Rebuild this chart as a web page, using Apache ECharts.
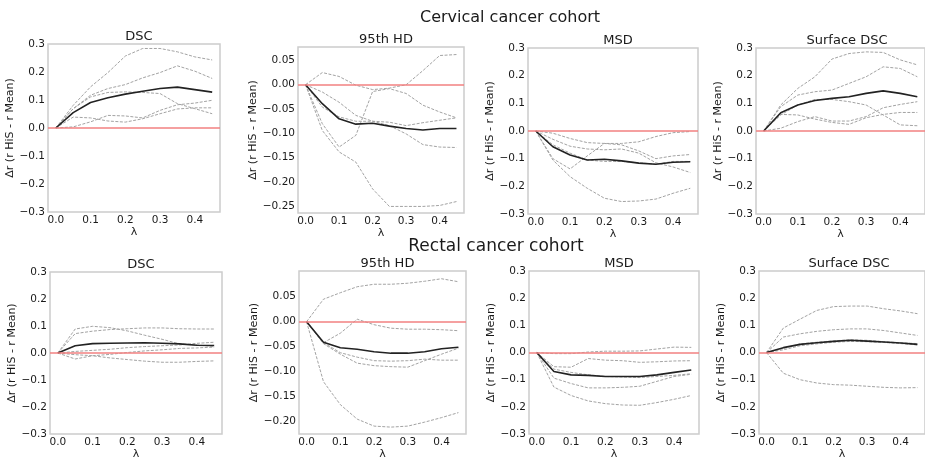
<!DOCTYPE html>
<html>
<head>
<meta charset="utf-8">
<script src="https://cdn.jsdelivr.net/npm/echarts@6/dist/echarts.min.js"></script>
<style>
  html, body { margin: 0; padding: 0; background: #fff; }
  #chart { width: 925px; height: 461px; }
</style>
</head>
<body>
<div id="chart"></div>
<script>
// lambda values (x axis)
const lambdas = [0, 0.05, 0.1, 0.15, 0.2, 0.25, 0.3, 0.35, 0.4, 0.45]
const xTicks = [0, 0.1, 0.2, 0.3, 0.4]
const yTicksWide = [-0.3, -0.2, -0.1, 0, 0.1, 0.2, 0.3]
const yTicksHdCerv = [-0.25, -0.2, -0.15, -0.1, -0.05, 0, 0.05]
const yTicksHdRect = [-0.2, -0.15, -0.1, -0.05, 0, 0.05]

const rowTitles = ['Cervical cancer cohort', 'Rectal cancer cohort']
const panelTitles = ['DSC', '95th HD', 'MSD', 'Surface DSC', 'DSC', '95th HD', 'MSD', 'Surface DSC']

// Cervical cohort
const cervDscMean = [0, 0.055, 0.091, 0.108, 0.121, 0.131, 0.141, 0.146, 0.137, 0.128]
const cervDscRuns = [
  [0, 0.081, 0.147, 0.198, 0.257, 0.284, 0.284, 0.272, 0.254, 0.243],
  [0, 0.069, 0.117, 0.141, 0.155, 0.179, 0.198, 0.222, 0.203, 0.177],
  [0, 0.069, 0.111, 0.127, 0.129, 0.127, 0.123, 0.087, 0.069, 0.051],
  [0, 0.039, 0.036, 0.025, 0.021, 0.033, 0.051, 0.068, 0.072, 0.072],
  [0, 0.004, 0.022, 0.045, 0.043, 0.036, 0.063, 0.083, 0.089, 0.099]
]
const cervHdMean = [0, -0.039, -0.070, -0.081, -0.079, -0.085, -0.090, -0.093, -0.090, -0.090]
const cervHdRuns = [
  [0, 0.025, 0.017, -0.001, -0.010, -0.007, 0, 0.029, 0.060, 0.062],
  [0, -0.080, -0.128, -0.104, -0.014, -0.008, -0.018, -0.042, -0.056, -0.068],
  [0, -0.094, -0.138, -0.159, -0.214, -0.250, -0.250, -0.250, -0.248, -0.240],
  [0, -0.015, -0.036, -0.063, -0.075, -0.084, -0.101, -0.123, -0.128, -0.129],
  [0, -0.046, -0.066, -0.075, -0.075, -0.077, -0.084, -0.078, -0.073, -0.068]
]
const cervMsdMean = [0, -0.057, -0.087, -0.105, -0.102, -0.108, -0.116, -0.120, -0.113, -0.111]
const cervMsdRuns = [
  [0, -0.008, -0.027, -0.042, -0.045, -0.045, -0.039, -0.020, -0.006, -0.002],
  [0, -0.100, -0.137, -0.090, -0.045, -0.050, -0.072, -0.100, -0.090, -0.085],
  [0, -0.105, -0.165, -0.207, -0.243, -0.255, -0.253, -0.246, -0.225, -0.207],
  [0, -0.030, -0.055, -0.065, -0.068, -0.065, -0.080, -0.115, -0.130, -0.150],
  [0, -0.050, -0.080, -0.105, -0.110, -0.110, -0.115, -0.120, -0.110, -0.110]
]
const cervSdscMean = [0, 0.066, 0.094, 0.110, 0.118, 0.124, 0.136, 0.145, 0.136, 0.124]
const cervSdscRuns = [
  [0, 0.094, 0.154, 0.196, 0.260, 0.280, 0.286, 0.284, 0.257, 0.239],
  [0, 0.088, 0.130, 0.142, 0.148, 0.172, 0.196, 0.232, 0.226, 0.196],
  [0, 0.058, 0.094, 0.114, 0.114, 0.106, 0.094, 0.058, 0.022, 0.019],
  [0, 0.060, 0.058, 0.043, 0.031, 0.024, 0.048, 0.060, 0.067, 0.067],
  [0, 0.010, 0.034, 0.052, 0.036, 0.036, 0.052, 0.084, 0.096, 0.106]
]

// Rectal cohort
const rectDscMean = [0, 0.027, 0.035, 0.036, 0.037, 0.038, 0.036, 0.034, 0.029, 0.028]
const rectDscRuns = [
  [0, 0.089, 0.099, 0.094, 0.082, 0.066, 0.051, 0.034, 0.030, 0.024],
  [0, 0.072, 0.081, 0.087, 0.090, 0.093, 0.093, 0.090, 0.089, 0.089],
  [0, 0.006, 0.010, 0.014, 0.020, 0.024, 0.027, 0.030, 0.036, 0.040],
  [0, -0.022, -0.010, -0.005, 0.002, 0.008, 0.012, 0.017, 0.019, 0.022],
  [0, -0.006, -0.010, -0.018, -0.024, -0.030, -0.034, -0.034, -0.031, -0.029]
]
const rectHdMean = [0, -0.041, -0.052, -0.055, -0.060, -0.063, -0.063, -0.060, -0.054, -0.051]
const rectHdRuns = [
  [0, 0.045, 0.058, 0.070, 0.075, 0.075, 0.077, 0.081, 0.086, 0.080],
  [0, -0.042, -0.023, 0.005, -0.006, -0.013, -0.015, -0.015, -0.016, -0.018],
  [0, -0.042, -0.062, -0.071, -0.078, -0.079, -0.078, -0.075, -0.077, -0.077],
  [0, -0.044, -0.065, -0.083, -0.088, -0.090, -0.091, -0.078, -0.065, -0.053],
  [0, -0.120, -0.166, -0.195, -0.209, -0.211, -0.209, -0.201, -0.192, -0.182]
]
const rectMsdMean = [0, -0.070, -0.082, -0.084, -0.088, -0.088, -0.088, -0.082, -0.073, -0.064]
const rectMsdRuns = [
  [0, -0.004, -0.004, 0.002, 0.005, 0.005, 0.006, 0.013, 0.020, 0.019],
  [0, -0.052, -0.054, -0.022, -0.028, -0.030, -0.036, -0.034, -0.031, -0.030],
  [0, -0.061, -0.073, -0.082, -0.088, -0.090, -0.092, -0.088, -0.084, -0.078],
  [0, -0.094, -0.114, -0.130, -0.130, -0.128, -0.124, -0.106, -0.088, -0.080],
  [0, -0.127, -0.158, -0.178, -0.188, -0.193, -0.194, -0.184, -0.172, -0.158]
]
const rectSdscMean = [0, 0.018, 0.030, 0.036, 0.041, 0.045, 0.042, 0.039, 0.035, 0.030]
const rectSdscRuns = [
  [0, 0.090, 0.123, 0.155, 0.169, 0.171, 0.171, 0.161, 0.153, 0.143],
  [0, 0.057, 0.069, 0.078, 0.084, 0.087, 0.087, 0.081, 0.072, 0.063],
  [0, 0.015, 0.032, 0.038, 0.043, 0.047, 0.045, 0.040, 0.036, 0.033],
  [0, 0.010, 0.025, 0.032, 0.038, 0.041, 0.040, 0.037, 0.033, 0.028],
  [0, -0.076, -0.100, -0.112, -0.118, -0.120, -0.124, -0.128, -0.130, -0.129]
]

const FONT = 'DejaVu Sans'
const TXT = '#1a1a1a'

const panels = [
  { mean: cervDscMean, runs: cervDscRuns, rect: [48, 44, 172, 168], y: [-0.3, 0.3], ticks: yTicksWide, dec: 1, gap: 25 },
  { mean: cervHdMean, runs: cervHdRuns, rect: [298, 47, 166, 166], y: [-0.2635, 0.0775], ticks: yTicksHdCerv, dec: 2, gap: 36 },
  { mean: cervMsdMean, runs: cervMsdRuns, rect: [528, 48, 170, 166], y: [-0.3, 0.3], ticks: yTicksWide, dec: 1, gap: 26 },
  { mean: cervSdscMean, runs: cervSdscRuns, rect: [756, 48, 172, 166], y: [-0.3, 0.3], ticks: yTicksWide, dec: 1, gap: 26 },
  { mean: rectDscMean, runs: rectDscRuns, rect: [50, 272, 172, 166], y: [-0.3, 0.3], ticks: yTicksWide, dec: 1, gap: 26 },
  { mean: rectHdMean, runs: rectHdRuns, rect: [299, 271, 167, 167], y: [-0.225, 0.1015], ticks: yTicksHdRect, dec: 2, gap: 32 },
  { mean: rectMsdMean, runs: rectMsdRuns, rect: [529, 271, 170, 167], y: [-0.3, 0.3], ticks: yTicksWide, dec: 1, gap: 25 },
  { mean: rectSdscMean, runs: rectSdscRuns, rect: [759, 271, 170, 167], y: [-0.3, 0.3], ticks: yTicksWide, dec: 1, gap: 25 }
]

function fmt(v, d) {
  const s = Math.abs(v).toFixed(d)
  return (v < -1e-9 ? '\u2212' : '') + s
}

const toPoints = arr => lambdas.map((x, i) => [x, arr[i]])

const grids = []
const xAxes = []
const yAxes = []
const series = []
const titles = [
  { text: rowTitles[0], left: 505, top: 5, textAlign: 'center', textStyle: { fontFamily: FONT, fontSize: 16, fontWeight: 'normal', color: TXT } },
  { text: rowTitles[1], left: 491, top: 233, textAlign: 'center', textStyle: { fontFamily: FONT, fontSize: 17, fontWeight: 'normal', color: TXT } }
]

panels.forEach((p, k) => {
  const [l, t, w, h] = p.rect
  grids.push({ left: l, top: t, width: w, height: h, show: true, borderColor: '#cccccc', borderWidth: 1.5, backgroundColor: 'transparent' })
  titles.push({
    text: panelTitles[k], left: l + w / 2, top: t - 19, textAlign: 'center',
    textStyle: { fontFamily: FONT, fontSize: 13, fontWeight: 'normal', color: TXT }
  })
  xAxes.push({
    type: 'value', gridIndex: k, min: -0.0225, max: 0.4725,
    name: 'λ', nameLocation: 'middle', nameGap: 13,
    nameTextStyle: { fontFamily: FONT, fontSize: 11, color: TXT },
    axisLine: { show: false }, axisTick: { show: false }, splitLine: { show: false },
    axisLabel: { customValues: xTicks, margin: 3, fontFamily: FONT, fontSize: 10.5, color: TXT, formatter: v => fmt(v, 1) }
  })
  yAxes.push({
    type: 'value', gridIndex: k, min: p.y[0], max: p.y[1],
    name: 'Δr (r HiS - r Mean)', nameLocation: 'middle', nameGap: p.gap, nameRotate: 90,
    nameTextStyle: { fontFamily: FONT, fontSize: 11, color: TXT },
    axisLine: { show: false }, axisTick: { show: false }, splitLine: { show: false },
    axisLabel: { customValues: p.ticks, margin: 3, fontFamily: FONT, fontSize: 10.5, color: TXT, formatter: v => fmt(v, p.dec) }
  })
  p.runs.forEach(run => {
    series.push({
      type: 'line', xAxisIndex: k, yAxisIndex: k, data: toPoints(run),
      symbol: 'none', silent: true,
      lineStyle: { color: '#a3a3a3', width: 1, type: [3, 1.5] }
    })
  })
  series.push({
    type: 'line', xAxisIndex: k, yAxisIndex: k, data: toPoints(p.mean),
    symbol: 'none', silent: true, z: 3,
    lineStyle: { color: '#222222', width: 1.6 },
    markLine: {
      silent: true, symbol: 'none', label: { show: false },
      lineStyle: { color: '#f28080', width: 1.5, type: 'solid' },
      data: [{ yAxis: 0 }]
    }
  })
})

const chart = echarts.init(document.getElementById('chart'))
chart.setOption({
  animation: false,
  backgroundColor: '#ffffff',
  title: titles,
  grid: grids,
  xAxis: xAxes,
  yAxis: yAxes,
  series: series
})

window.addEventListener('resize', () => chart.resize())
</script>
</body>
</html>
